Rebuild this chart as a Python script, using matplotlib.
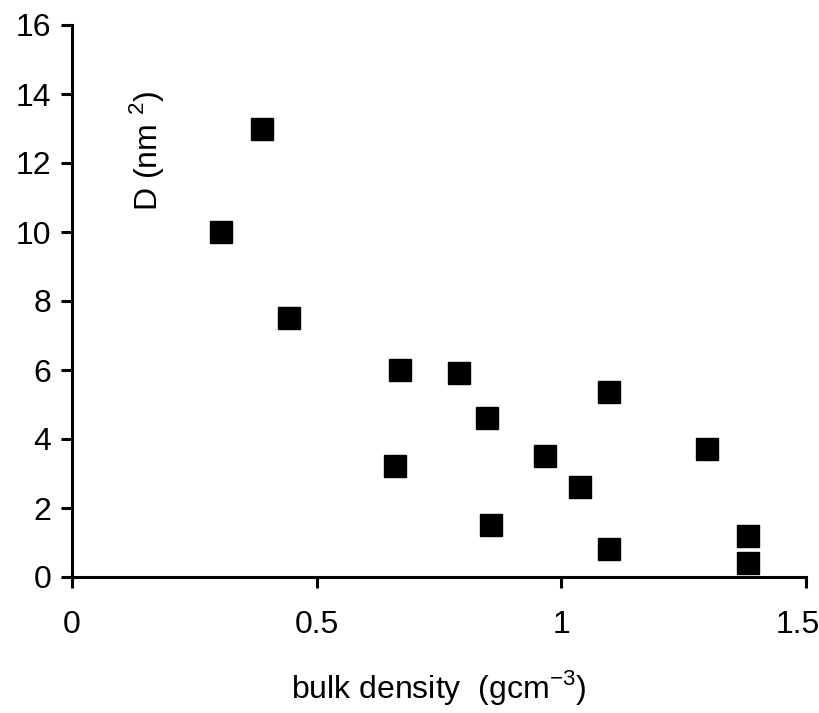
import matplotlib
matplotlib.use("Agg")
import matplotlib.pyplot as plt
from matplotlib import font_manager
import matplotlib.transforms as mtransforms

names = {f.name for f in font_manager.fontManager.ttflist}
main_font = 'Liberation Sans Narrow' if 'Liberation Sans Narrow' in names else 'Liberation Sans'
plt.rcParams['font.family'] = [main_font, 'DejaVu Sans']
plt.rcParams['mathtext.fontset'] = 'custom'
plt.rcParams['mathtext.rm'] = main_font

bulk_density = [0.388, 0.304, 0.443, 0.671, 0.661, 0.790, 0.849, 0.857,
                0.967, 1.039, 1.098, 1.098, 1.298, 1.382, 1.382]
D_values = [13.0, 10.0, 7.52, 6.0, 3.22, 5.9, 4.6, 1.5,
            3.5, 2.6, 5.37, 0.81, 3.7, 1.2, 0.4]
x_ticks = [0, 0.5, 1, 1.5]
x_tick_labels = ["0", "0.5", "1", "1.5"]
y_ticks = [0, 2, 4, 6, 8, 10, 12, 14, 16]

fig = plt.figure(figsize=(8.19, 7.13), dpi=100)
ax = fig.add_axes([72/819, 1-577/713, (806-72)/819, (577-25)/713])

ax.plot(bulk_density, D_values, linestyle='none', marker='s', markersize=15.5,
        color='black', markeredgecolor='black', clip_on=False)

ax.set_xlim(0, 1.5)
ax.set_ylim(0, 16)
ax.set_xticks(x_ticks)
ax.set_xticklabels(x_tick_labels)
ax.set_yticks(y_ticks)

for s in ['top', 'right']:
    ax.spines[s].set_visible(False)
for s in ['left', 'bottom']:
    ax.spines[s].set_linewidth(2.2)

ax.tick_params(axis='both', direction='out', length=8, width=2.2, labelsize=23)
ax.tick_params(axis='x', pad=16)
ax.tick_params(axis='y', pad=7)

# nudge the last x tick label left so it fits in the figure
lbl = ax.get_xticklabels()[-1]
lbl.set_transform(lbl.get_transform() + mtransforms.ScaledTranslation(-8/100, 0, fig.dpi_scale_trans))

ax.set_xlabel("bulk density  (gcm$^{\\mathregular{-3}}$)", fontsize=23, labelpad=20)
ax.text(0.102, 0.773, "D (nm $^{\\mathregular{2}}$)", transform=ax.transAxes,
        rotation=90, fontsize=23, ha='center', va='center')

fig.savefig("out.png", dpi=100)
